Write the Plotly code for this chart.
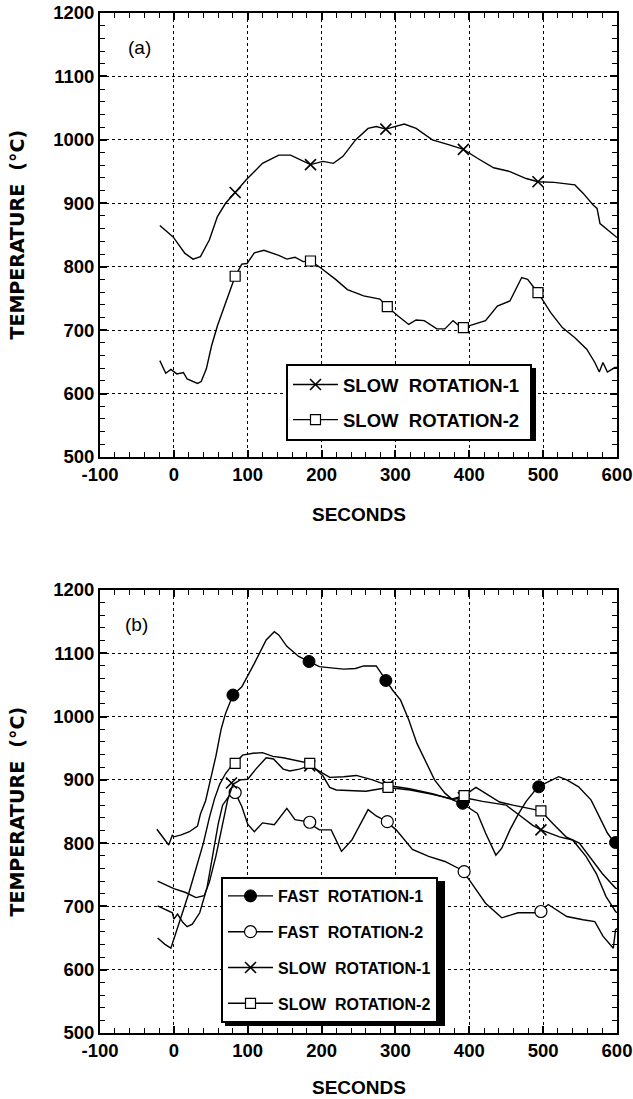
import plotly.graph_objects as go

# ---------------- data: panel (a) ----------------
a_slow1_t = [-19, -1, 15, 26, 36, 48, 59, 70, 83, 98, 120, 142, 158, 172, 185, 202, 216, 229, 246, 263,
             274, 287, 298, 312, 328, 350, 373, 392, 411, 433, 455, 477, 493, 515, 543, 554, 568, 573,
             577, 587, 597, 600]
a_slow1_v = [865, 847, 821, 812, 816, 842, 879, 900, 917, 937, 963, 976, 976, 968, 961, 966, 963, 974, 1000, 1018,
             1021, 1017, 1021, 1025, 1018, 1000, 992, 985, 971, 956, 950, 939, 934, 933, 929, 916, 897, 892,
             868, 858, 848, 846]
a_slow1_mk_t = [83, 185, 287, 392, 493]
a_slow1_mk_v = [917, 961, 1017, 985, 934]

a_slow2_t = [-19, -11, -4, 4, 13, 18, 32, 37, 44, 51, 59, 68, 75, 83, 92, 99, 109, 122, 142, 153, 164, 175,
             185, 199, 219, 235, 257, 279, 289, 304, 318, 328, 339, 356, 367, 378, 386, 392, 405, 422, 438,
             455, 471, 479, 493, 510, 526, 543, 559, 570, 576, 581, 587, 597, 600]
a_slow2_v = [652, 632, 638, 631, 633, 623, 616, 619, 639, 675, 707, 738, 759, 785, 804, 805, 822, 826, 818, 812,
             815, 808, 809, 798, 780, 764, 754, 749, 737, 722, 709, 716, 715, 702, 702, 715, 707, 704, 709, 715,
             738, 746, 783, 780, 759, 728, 704, 688, 670, 649, 634, 649, 634, 641, 641]
a_slow2_mk_t = [83, 185, 289, 392, 493]
a_slow2_mk_v = [785, 809, 737, 704, 759]

# ---------------- data: panel (b) ----------------
b_fast1_t = [-23, -15, -7, -2, 0, 10, 21, 32, 36, 43, 50, 57, 64, 70, 80, 92, 109, 125, 136, 142, 153, 169,
             183, 197, 213, 230, 246, 257, 274, 287, 296, 307, 318, 329, 340, 353, 367, 378, 390, 411, 422,
             436, 444, 455, 466, 477, 493, 510, 521, 532, 548, 565, 576, 587, 597, 600]
b_fast1_v = [822, 810, 797, 813, 810, 813, 818, 827, 846, 867, 901, 938, 980, 1005, 1034, 1047, 1084, 1121, 1134,
             1129, 1111, 1095, 1087, 1079, 1077, 1075, 1076, 1080, 1080, 1057, 1042, 1026, 995, 958, 932, 900,
             879, 868, 863, 847, 816, 781, 792, 821, 845, 866, 889, 899, 905, 900, 889, 868, 842, 816, 800, 800]
b_fast1_mk_t = [80, 183, 287, 391, 494, 598]
b_fast1_mk_v = [1034, 1087, 1057, 863, 889, 801]

b_fast2_t = [-22, -10, -2, 0, 5, 12, 18, 25, 35, 45, 52, 60, 66, 75, 83, 92, 100, 109, 120, 136, 153, 164,
             180, 197, 213, 227, 241, 263, 274, 287, 301, 323, 345, 367, 389, 400, 422, 444, 466, 493, 507,
             532, 554, 570, 581, 595, 598, 600]
b_fast2_v = [701, 695, 690, 680, 688, 675, 668, 672, 690, 730, 780, 830, 860, 875, 880, 858, 830, 818, 832, 829,
             855, 837, 834, 821, 821, 787, 805, 853, 843, 835, 821, 790, 779, 771, 758, 742, 705, 682, 690, 690,
             703, 684, 679, 676, 653, 634, 663, 665]
b_fast2_mk_t = [83, 184, 289, 393, 497]
b_fast2_mk_v = [880, 833, 834, 755, 692]

b_slow1_t = [-22, 0, 16, 30, 41, 48, 57, 66, 73, 80, 90, 100, 111, 125, 135, 148, 157, 170, 184, 198, 211,
             230, 247, 269, 290, 319, 350, 377, 392, 418, 450, 468, 486, 497, 522, 540, 558, 572, 585, 598, 600]
b_slow1_v = [740, 728, 722, 714, 717, 738, 780, 833, 869, 893, 900, 901, 917, 935, 933, 917, 914, 917, 922, 913,
             904, 905, 907, 900, 891, 886, 878, 869, 872, 866, 860, 844, 828, 821, 810, 805, 779, 752, 716, 692, 690]
b_slow1_mk_t = [78, 184, 290, 392, 497]
b_slow1_mk_v = [895, 922, 891, 872, 821]

b_slow2_t = [-22, -12, -4, 0, 5, 12, 20, 30, 40, 48, 55, 62, 70, 78, 83, 93, 107, 120, 134, 148, 166, 184,
             202, 211, 220, 260, 290, 320, 350, 377, 393, 409, 427, 441, 459, 486, 497, 513, 531, 549, 567,
             580, 598, 600]
b_slow2_v = [650, 640, 634, 648, 665, 690, 720, 760, 800, 840, 870, 893, 910, 922, 926, 939, 942, 943, 937, 935,
             930, 926, 906, 888, 884, 882, 888, 884, 877, 870, 875, 888, 875, 865, 860, 854, 851, 831, 810, 800,
             771, 752, 729, 728]
b_slow2_mk_t = [83, 184, 290, 393, 497]
b_slow2_mk_v = [926, 926, 888, 875, 851]

x_range = [-100, 600]
y_range = [500, 1200]
x_tick_vals = [-100, 0, 100, 200, 300, 400, 500, 600]
x_tick_text = ["-100", "0", "100", "200", "300", "400", "500", "600"]
y_tick_vals = [500, 600, 700, 800, 900, 1000, 1100, 1200]
y_tick_text = ["500", "600", "700", "800", "900", "1000", "1100", "1200"]

# ---------------- styles ----------------
LINE = dict(color="black", width=1.4)
M_X = dict(symbol="x-thin", size=11, line=dict(color="black", width=1.6), color="black")
M_SQ = dict(symbol="square", size=10, color="white", line=dict(color="black", width=1.2))
M_FC = dict(symbol="circle", size=12, color="black", line=dict(color="black", width=1))
M_OC = dict(symbol="circle", size=12, color="white", line=dict(color="black", width=1.2))

fig = go.Figure()


def add_series(t, v, mt, mv, marker, name, xa, ya, legend):
    fig.add_trace(go.Scatter(x=t, y=v, mode="lines", line=LINE, showlegend=False,
                             xaxis=xa, yaxis=ya, hoverinfo="skip"))
    fig.add_trace(go.Scatter(x=mt, y=mv, mode="markers", marker=marker, showlegend=False,
                             xaxis=xa, yaxis=ya, hoverinfo="skip"))
    # legend entry (line with the marker in the middle)
    fig.add_trace(go.Scatter(x=[None], y=[None], mode="lines+markers", line=LINE, marker=marker,
                             name=name, xaxis=xa, yaxis=ya, legend=legend,
                             legendgroup=legend + name))


NB = "\u00a0"
add_series(a_slow1_t, a_slow1_v, a_slow1_mk_t, a_slow1_mk_v, M_X, "SLOW" + NB + " ROTATION-1" + NB, "x", "y", "legend")
add_series(a_slow2_t, a_slow2_v, a_slow2_mk_t, a_slow2_mk_v, M_SQ, "SLOW" + NB + " ROTATION-2" + NB, "x", "y", "legend")

add_series(b_fast1_t, b_fast1_v, b_fast1_mk_t, b_fast1_mk_v, M_FC, "FAST" + NB + " ROTATION-1", "x2", "y2", "legend2")
add_series(b_fast2_t, b_fast2_v, b_fast2_mk_t, b_fast2_mk_v, M_OC, "FAST" + NB + " ROTATION-2", "x2", "y2", "legend2")
add_series(b_slow1_t, b_slow1_v, b_slow1_mk_t, b_slow1_mk_v, M_X, "SLOW" + NB + " ROTATION-1", "x2", "y2", "legend2")
add_series(b_slow2_t, b_slow2_v, b_slow2_mk_t, b_slow2_mk_v, M_SQ, "SLOW" + NB + " ROTATION-2", "x2", "y2", "legend2")

TICKFONT = dict(family="Liberation Sans, Arial, sans-serif", size=18.5, color="black", weight="bold")


def xax(anchor):
    return dict(range=x_range, tickmode="array", tickvals=x_tick_vals, ticktext=x_tick_text,
                anchor=anchor, showline=True, linecolor="black",
                linewidth=2, mirror="ticks", ticks="inside", ticklen=7, tickwidth=1.5, tickcolor="black",
                showgrid=True, gridcolor="black", griddash="dot", gridwidth=1, zeroline=False,
                tickfont=TICKFONT, ticklabeloverflow="allow", automargin=False,
                minor=dict(dtick=20, tick0=0, ticks="inside", ticklen=5, tickwidth=1.2, tickcolor="black",
                           showgrid=False))


def yax(anchor, domain):
    return dict(range=y_range, tickmode="array", tickvals=y_tick_vals, ticktext=y_tick_text,
                anchor=anchor, domain=domain, showline=True,
                linecolor="black", linewidth=2, mirror="ticks", ticks="inside", ticklen=7, tickwidth=1.5,
                tickcolor="black", showgrid=True, gridcolor="black", griddash="dot", gridwidth=1,
                zeroline=False, tickfont=TICKFONT, ticklabeloverflow="allow", automargin=False,
                minor=dict(dtick=20, tick0=0, ticks="inside", ticklen=5, tickwidth=1.2, tickcolor="black",
                           showgrid=False))


W, H = 633, 1099
ML, MR, MT, MB = 100, 16, 13, 66
PW, PH = W - ML - MR, H - MT - MB


def px_x(p):
    return (p - ML) / PW


def px_y(p):
    return (H - MB - p) / PH


top_dom = [px_y(457), 1.0]
bot_dom = [0.0, px_y(590)]

LEGFONT_A = dict(family="Liberation Sans, Arial, sans-serif", size=18.5, color="black", weight="bold")
LEGFONT_B = dict(family="Liberation Sans, Arial, sans-serif", size=16, color="black", weight="bold")

TITLEFONT = dict(family="Liberation Sans, Arial, sans-serif", size=19, color="black", weight="bold")
YTITLEFONT = dict(family="DejaVu Sans, sans-serif", size=19, color="black", weight="bold")

annotations = [
    dict(text="(a)", x=-46, y=1146, xref="x", yref="y", showarrow=False,
         font=dict(family="Liberation Sans, Arial, sans-serif", size=19, color="black")),
    dict(text="(b)", x=-51, y=1145, xref="x2", yref="y2", showarrow=False,
         font=dict(family="Liberation Sans, Arial, sans-serif", size=19, color="black")),
    dict(text="SECONDS", x=0.5, y=px_y(514), xref="paper", yref="paper", showarrow=False,
         xanchor="center", yanchor="middle", font=TITLEFONT),
    dict(text="SECONDS", x=0.5, y=px_y(1087), xref="paper", yref="paper", showarrow=False,
         xanchor="center", yanchor="middle", font=TITLEFONT),
    dict(text="TEMPERATURE  (°C)", x=px_x(16.5), y=px_y(235), xref="paper", yref="paper", showarrow=False,
         textangle=-90, xanchor="center", yanchor="middle", font=YTITLEFONT),
    dict(text="TEMPERATURE  (°C)", x=px_x(16.5), y=px_y(812), xref="paper", yref="paper", showarrow=False,
         textangle=-90, xanchor="center", yanchor="middle", font=YTITLEFONT),
]

shapes = [
    dict(type="rect", xref="paper", yref="paper", x0=px_x(290), x1=px_x(536), y0=px_y(441), y1=px_y(368),
         fillcolor="black", line=dict(width=0), layer="above"),
    dict(type="rect", xref="paper", yref="paper", x0=px_x(225), x1=px_x(445), y0=px_y(1026), y1=px_y(881),
         fillcolor="black", line=dict(width=0), layer="above"),
]

fig.update_layout(
    width=W, height=H, margin=dict(l=ML, r=MR, t=MT, b=MB, pad=0, autoexpand=False),
    paper_bgcolor="white", plot_bgcolor="white",
    xaxis=xax("y"), yaxis=yax("x", top_dom),
    xaxis2=xax("y2"), yaxis2=yax("x2", bot_dom),
    showlegend=True,
    legend=dict(x=px_x(286), y=px_y(364), xanchor="left", yanchor="top", bgcolor="white",
                bordercolor="black", borderwidth=2, font=LEGFONT_A, itemwidth=45,
                traceorder="grouped", tracegroupgap=8),
    legend2=dict(x=px_x(221), y=px_y(877), xanchor="left", yanchor="top", bgcolor="white",
                 bordercolor="black", borderwidth=2, font=LEGFONT_B, itemwidth=45,
                 traceorder="grouped", tracegroupgap=12),
    annotations=annotations, shapes=shapes,
)

fig.write_html("out.html")
